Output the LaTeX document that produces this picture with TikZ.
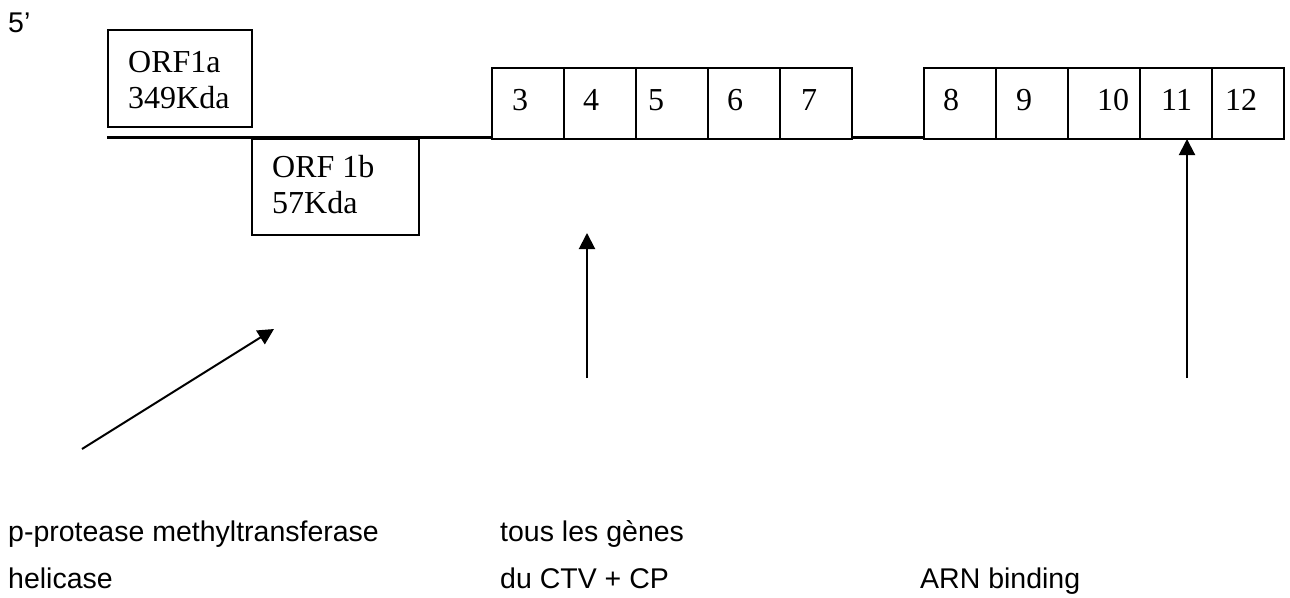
\documentclass[tikz,border=0pt]{standalone}
\usepackage{fontspec}
\setmainfont{Liberation Serif}
\setsansfont{Liberation Sans}
\usetikzlibrary{arrows.meta}
\begin{document}
\begin{tikzpicture}[x=1pt,y=-1pt,
  box/.style={draw,line width=2pt,rectangle,inner sep=0pt,anchor=north west},
  serif/.style={font=\fontsize{32}{37}\selectfont\rmfamily,inner sep=0pt,anchor=base west},
  sans/.style={font=\fontsize{28.5}{34}\selectfont\sffamily,inner sep=0pt,anchor=base west},
  arr/.style={line width=2pt,-{Triangle[length=16pt,width=16pt]}},
  gline/.style={line width=2.2pt}]
\useasboundingbox (0,0) rectangle (1290,597);
% ORF boxes
\node[box,minimum width=144pt,minimum height=97pt] (orf1a) at (107,29) {};
\node[box,minimum width=167pt,minimum height=96pt] (orf1b) at (251,138) {};
\node[serif] (t1a) at (128,72) {ORF1a};
\node[serif] (t1a2) at (128,108) {349Kda};
\node[serif] (t1b) at (272,177) {ORF 1b};
\node[serif] (t1b2) at (272,213) {57Kda};
% gene boxes
\foreach \n/\x in {3/491,4/563,5/635,6/707,7/779,8/923,9/995,10/1067,11/1139,12/1211}
  \node[box,minimum width=72pt,minimum height=71pt] (b\n) at (\x,67) {};
\foreach \n/\x in {3/512,4/583,5/648,6/727,7/801,8/943,9/1016,10/1097,11/1161,12/1225}
  \node[serif] (t\n) at (\x,110) {\n};
% genome line
\coordinate (start) at (107,137.5);
\draw[gline] (start) -- (start -| b3.west);
\draw[gline] (start -| b7.east) -- (start -| b8.west);
% arrows
\coordinate (a1s) at (82,449);
\coordinate (a1e) at (274,329);
\coordinate (a2s) at (587,378);
\coordinate (a2e) at (587,233);
\coordinate (a3s) at (1187,378);
\coordinate (a3e) at (1187,139);
\draw[arr] (a1s) -- (a1e);
\draw[arr] (a2s) -- (a2e);
\draw[arr] (a3s) -- (a3e);
% texts
\node[sans] (five) at (8,32) {5’};
\node[sans] (l1) at (8,541) {p-protease methyltransferase};
\node[sans] (l2) at (8,588) {helicase};
\node[sans] (m1) at (500,541) {tous les gènes};
\node[sans] (m2) at (500,588) {du CTV + CP};
\node[sans] (r1) at (920,588) {ARN binding};
\end{tikzpicture}
\end{document}
